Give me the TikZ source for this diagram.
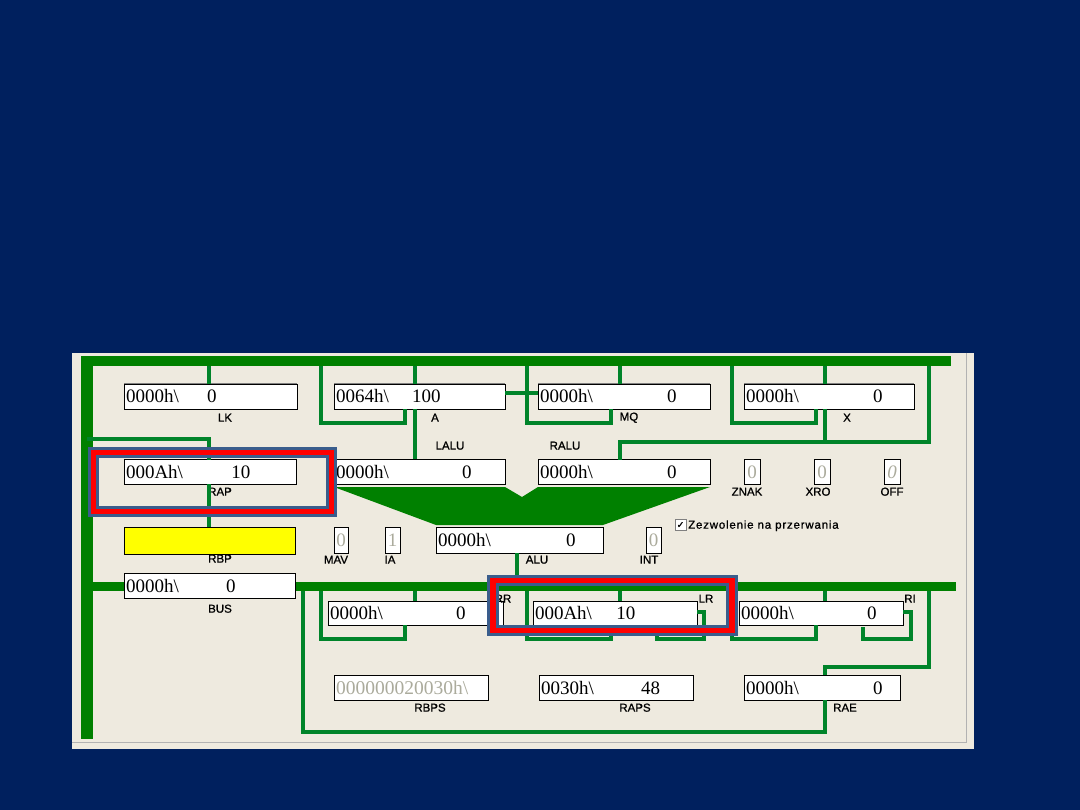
\documentclass[tikz,border=0pt]{standalone}
\usepackage{fontspec}
\setmainfont{Liberation Serif}
\newfontfamily\tagfont[FakeBold=1]{Liberation Sans}
\newfontfamily\symfont[FakeBold=2]{DejaVu Sans}
\usetikzlibrary{positioning}
\definecolor{navy}{HTML}{00205E}
\definecolor{panel}{HTML}{EEEADF}
\definecolor{busgreen}{HTML}{008000}
\definecolor{wiregreen}{HTML}{00842A}
\definecolor{dim}{HTML}{ABAB9C}
\definecolor{framered}{HTML}{FF0000}
\definecolor{frameblue}{HTML}{3A5D8C}
\definecolor{regyellow}{HTML}{FFFF00}
\tikzset{
  reg/.style={draw=black,line width=.8pt,fill=white,inner xsep=2pt,inner ysep=0pt,outer sep=0pt,
    minimum height=25pt,align=left,text height=13pt,text depth=0pt,font=\fontsize{19}{22}\selectfont,
    path picture={\draw[gray,line width=1.6pt] (path picture bounding box.south west)
      |- (path picture bounding box.north east);}},
  bit/.style={reg,text=dim,align=center,inner xsep=0pt},
  tag/.style={font=\tagfont\fontsize{11.5}{13}\selectfont,inner sep=0pt,yshift=-.7pt},
  wire/.style={wiregreen,line width=3.5pt,line join=miter},
  busbar/.style={busgreen,line width=10pt},
  hilite/.style={draw=frameblue,double=framered,double distance=5.5pt,line width=3pt,minimum width=#1,outer sep=0pt},
}
\newcommand{\gapval}[2]{\textbackslash\hspace{\dimexpr#1pt+1.4pt\relax}#2}

\begin{document}
\begin{tikzpicture}[x=1pt,y=-1pt]
\useasboundingbox (0,0) rectangle (1080,810);
\fill[navy] (0,0) rectangle (1080,810);
\fill[panel] (72,353) rectangle (974,749);
\draw[gray!60,line width=.8pt] (966,353) -- (966,742) -- (72,742);
% buses
\coordinate (topl) at (87,361);
\coordinate (topr) at (951,361);
\coordinate (midl) at (86,586.5);
\coordinate (midr) at (956,586.5);
\coordinate (leftend) at (87,739);
\draw[busbar] (81,361) -- (topr);
\draw[busbar,line width=12pt] ([yshift=-5]topl) -- (leftend);
\draw[busbar,line width=9pt] (midl) -- (midr);
% registers
\node[reg,minimum width=173pt,text width=169pt] (lk) at (210.5,396.5) {0000h\gapval{27}{0}};
\node[reg,minimum width=171pt,text width=167pt] (a) at (419.5,396.5) {0064h\gapval{22}{100}};
\node[reg,minimum width=172pt,text width=168pt] (mq) at (624,396.5) {0000h\gapval{73}{0}};
\node[reg,minimum width=170pt,text width=166pt] (x) at (829,396.5) {0000h\gapval{73}{0}};
\node[reg,minimum width=172pt,text width=168pt] (rap) at (210,472) {000Ah\gapval{47}{10}};
\node[reg,minimum width=171pt,text width=167pt] (lalu) at (419.5,472) {0000h\gapval{72}{0}};
\node[reg,minimum width=172pt,text width=168pt] (ralu) at (624,472) {0000h\gapval{73}{0}};
\node[bit,minimum width=16pt] (znak) at (752,472) {0};
\node[bit,minimum width=16pt] (xro) at (822,472) {0};
\node[bit,minimum width=16pt] (off) at (892,472) {\itshape 0};
\node[reg,fill=regyellow,minimum width=171pt,minimum height=27pt] (rbp) at (209.5,540.5) {};
\node[bit,minimum width=14pt,minimum height=26pt] (mav) at (341,540) {0};
\node[bit,minimum width=15pt,minimum height=26pt] (ia) at (392.5,540) {1};
\node[reg,minimum width=167pt,text width=163pt,minimum height=26pt] (alu) at (519.5,540) {0000h\gapval{74}{0}};
\node[bit,minimum width=15pt,minimum height=26pt] (int) at (653.5,540) {0};
\node[reg,minimum width=171pt,text width=167pt] (bus) at (209.5,585.5) {0000h\gapval{46}{0}};
\node[reg,minimum width=175pt,text width=171pt,minimum height=24pt] (rr) at (415.5,613) {0000h\gapval{72}{0}};
\node[reg,minimum width=164pt,text width=160pt,minimum height=24pt] (lr) at (615,613) {000Ah\gapval{23}{10}};
\node[reg,minimum width=164pt,text width=160pt,minimum height=24pt] (ri) at (821,613) {0000h\gapval{72}{0}};
\node[reg,minimum width=154pt,text width=150pt,text=dim,font=\fontsize{19.5}{22}\selectfont] (rbps) at (411,687.5) {000000020030h\textbackslash};
\node[reg,minimum width=154pt,text width=150pt] (raps) at (616,687.5) {0030h\gapval{46}{48}};
\node[reg,minimum width=156pt,text width=152pt] (rae) at (822,687.5) {0000h\gapval{73}{0}};
% labels
\node[tag] (lklab) at (225,417) {LK};
\node[tag] (alab) at (435,417) {A};
\node[tag] (mqlab) at (629,417) {MQ};
\node[tag] (xlab) at (847,417) {X};
\node[tag] (lalulab) at (450,445) {LALU};
\node[tag] (ralulab) at (565,445) {RALU};
\node[tag] (raplab) at (220,491) {RAP};
\node[tag] (znaklab) at (747,491) {ZNAK};
\node[tag] (xrolab) at (818,491) {XRO};
\node[tag] (offlab) at (892,491) {OFF};
\node[tag] (rbplab) at (220,558) {RBP};
\node[tag] (mavlab) at (336,559) {MAV};
\node[tag] (ialab) at (390,559) {IA};
\node[tag] (alulab) at (537,559) {ALU};
\node[tag] (intlab) at (649,559) {INT};
\node[tag] (buslab) at (220,608) {BUS};
\node[tag] (rrlab) at (503,598) {RR};
\node[tag] (lrlab) at (706,598) {LR};
\node[tag] (rilab) at (910,598) {RI};
\node[tag] (rbpslab) at (430,707) {RBPS};
\node[tag] (rapslab) at (635,707) {RAPS};
\node[tag] (raelab) at (845,707) {RAE};
\node[draw=gray,fill=white,line width=.8pt,minimum size=11pt,inner sep=0pt,font=\symfont\fontsize{9}{9}\selectfont] (irq) at (680.5,525) {✓};
\node[tag,anchor=west] (irqlab) at (688,525) {\addfontfeature{LetterSpace=7}Zezwolenie na przerwania};
% top bus wires
\coordinate (lkin) at (209,366);
\coordinate (aloop) at (321,366);
\coordinate (ain) at (415,366);
\coordinate (mqloop) at (527,366);
\coordinate (mqin) at (620,366);
\coordinate (xloop) at (732,366);
\coordinate (xin) at (825,366);
\coordinate (xout) at (929,366);
\draw[wire] (lkin) -- (lkin |- lk.north);
\draw[wire] (aloop) |- (405,423) -- (405,409);
\draw[wire] (ain) -- (ain |- a.north);
\draw[wire] (ain |- a.south) -- (ain |- lalu.north);
\draw[wire] (a.east |- 0,393) -- (mq.west |- 0,393);
\draw[wire] (mqloop) |- (611,423) -- (611,409);
\draw[wire] (mqin) -- (mqin |- mq.north);
\draw[wire] (xloop) |- (816,423) -- (816,409);
\draw[wire] (xin) -- (xin |- x.north);
\draw[wire] (xin |- x.south) -- (825,442);
\draw[wire] (xout) |- (620,442) -- (620,460);
\draw[wire] (87,439) -| (209,460);
\draw[wire] (209,484) -- (209,527);
% mid bus wires
\coordinate (rrloop) at (321,591);
\coordinate (rrin) at (415,591);
\coordinate (lrloop) at (527,591);
\coordinate (lrin) at (620,591);
\coordinate (riloop) at (732,591);
\coordinate (riin) at (825,591);
\coordinate (riout) at (929,591);
\draw[wire] (517,553) -- (517,582);
\draw[wire] (rrloop) |- (405,639) -- (405,625);
\draw[wire] (rrin) -- (rrin |- rr.north);
\draw[wire] (303,591) |- (825,732) -- (825,700);
\draw[wire] (riout) |- (825,667) -- (825,675);
\draw[wire] (lrloop) |- (611,639) -- (611,625);
\draw[wire] (lrin) -- (lrin |- lr.north);
\draw[wire] (lr.east |- 0,612) -| (704,639) -| (657,633);
\draw[wire] (riloop) |- (816,639) -- (816,625);
\draw[wire] (riin) -- (riin |- ri.north);
\draw[wire] (ri.east |- 0,612) -| (911,639) -| (863,627);
% alu funnel
\fill[busgreen] (lalu.south west |- 0,487) -- (505,487) -- (522,497) -- (538,487) -- (710,487)
  -- (603,525) -- (436,525) -- cycle;
% highlight frames
\node[hilite=238pt,minimum height=59pt] (rapmark) at (212.5,482) {};
\node[hilite=239pt,minimum height=50pt] (lrmark) at (612.6,605.3) {};
\end{tikzpicture}
\end{document}
